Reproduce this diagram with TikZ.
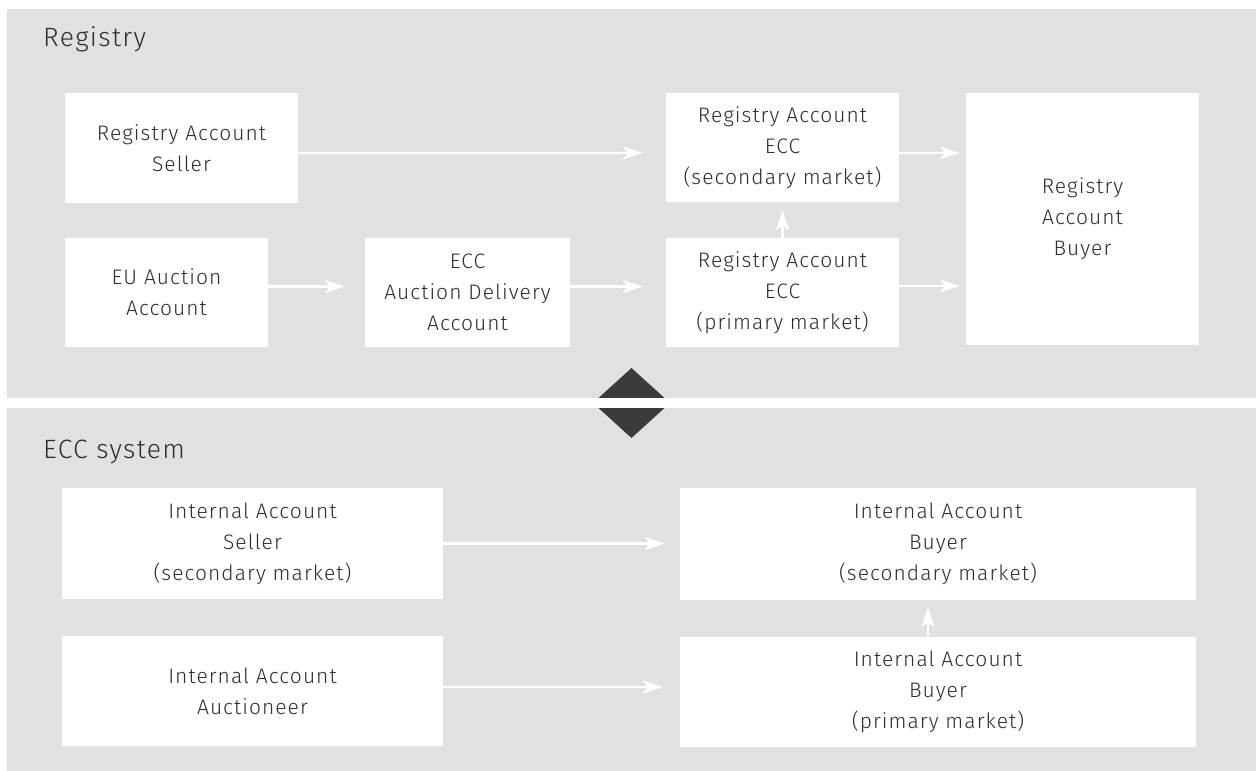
\documentclass[tikz,border=0pt]{standalone}
\usepackage{fontspec}
\setmainfont{Fira Sans Light}[LetterSpace=5]
\usetikzlibrary{arrows.meta}
\definecolor{panel}{HTML}{E1E1E3}
\definecolor{dia}{HTML}{3A3B3D}
\definecolor{txt}{HTML}{2E2E30}
\begin{document}
\begin{tikzpicture}[x=1pt,y=-1pt,
  box/.style={fill=white,draw=none,inner sep=0pt,align=center,text=txt,
    font=\fontsize{21}{31}\selectfont},
  arr/.style={draw=white,line width=2.2pt,-{Stealth[length=20pt,width=13pt,inset=5pt]}},
  title/.style={anchor=base west,text=txt,font=\fontsize{26.5}{30}\selectfont,inner sep=0pt}]
\useasboundingbox (0,0) rectangle (1256,771);
\fill[white] (0,0) rectangle (1256,771);
\fill[panel] (7,9) rectangle (1256,398);
\fill[panel] (7,408) rectangle (1256,771);
\fill[dia] (631.5,368) -- (670,403) -- (631.5,438) -- (593,403) -- cycle;
\fill[white] (560,398) rectangle (700,408);
\node[title] (reg) at (43,46) {Registry};
\node[title] (ecc) at (43,458) {ECC system};
% registry boxes
\node[box,minimum width=233pt,minimum height=110pt] (A) at (181.5,148) {Registry Account\\Seller};
\node[box,minimum width=203pt,minimum height=109pt] (B) at (166.5,292.5) {EU Auction\\Account};
\node[box,minimum width=205pt,minimum height=109pt] (C) at (467.5,292.5) {ECC\\Auction Delivery\\Account};
\node[box,minimum width=233pt,minimum height=109pt] (D) at (782.5,147.5) {Registry Account\\ECC\\(secondary market)};
\node[box,minimum width=233pt,minimum height=109pt] (E) at (782.5,292.5) {Registry Account\\ECC\\(primary market)};
\node[box,minimum width=233pt,minimum height=252pt] (F) at (1082.5,219) {Registry\\Account\\Buyer};
% ECC boxes
\node[box,minimum width=381pt,minimum height=111pt] (G) at (252.5,543.5) {Internal Account\\Seller\\(secondary market)};
\node[box,minimum width=516pt,minimum height=112pt] (H) at (938,544) {Internal Account\\Buyer\\(secondary market)};
\node[box,minimum width=381pt,minimum height=110pt] (I) at (252.5,691) {Internal Account\\Auctioneer};
\node[box,minimum width=516pt,minimum height=110pt] (J) at (938,691.5) {Internal Account\\Buyer\\(primary market)};
% arrows
\draw[arr,shorten >=23pt] ([yshift=-5pt]A.east) -- ([yshift=-5.5pt]D.west);
\draw[arr,shorten >=6pt] ([yshift=-5.5pt]D.east) -- ([yshift=-5.5pt]D.east -| F.west);
\draw[arr,shorten >=20pt] ([yshift=6pt]B.east) -- ([yshift=6pt]B.east -| C.west);
\draw[arr,shorten >=23pt] ([yshift=6pt]C.east) -- ([yshift=6pt]C.east -| E.west);
\draw[arr,shorten >=6pt] ([yshift=6.5pt]E.east) -- ([yshift=6.5pt]E.east -| F.west);
\draw[arr,shorten >=8pt] (E.north) -- (D.south);
\draw[arr,shorten >=15pt] (G.east) -- (G.east -| H.west);
\draw[arr,shorten >=17pt] ([yshift=4pt]I.east) -- ([yshift=4pt]I.east -| J.west);
\draw[arr,shorten >=7pt] ([xshift=-10pt]J.north) -- ([xshift=-10pt]H.south);
\end{tikzpicture}
\end{document}
